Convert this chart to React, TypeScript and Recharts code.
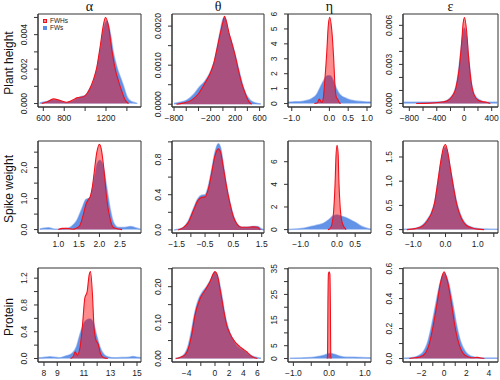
import { Area, ComposedChart, ReferenceArea, XAxis, YAxis } from "recharts";

type Pt = [number, number];

const rowNames = ["Plant height", "Spike weight", "Protein"];
const colNames = ["α", "θ", "η", "ε"];
const seriesNames = ["FWHs", "FWs"];

// ---- Plant height: [x, density] ----
const phAlphaFWHs: Pt[] = [[585, 0], [640, 0.0001], [696, 0.00027], [760, 0.00018], [824, 0.00008], [880, 0.0002], [920, 0.00033], [984, 0.0004], [1020, 0.0006], [1048, 0.0009], [1080, 0.0014], [1112, 0.0021], [1144, 0.0033], [1176, 0.0046], [1195, 0.005], [1224, 0.0045], [1256, 0.0031], [1288, 0.002], [1320, 0.0013], [1352, 0.0007], [1384, 0.0002], [1416, 0]];
const phAlphaFWs: Pt[] = [[565, 0.00003], [620, 0.0001], [690, 0.0002], [760, 0.00015], [824, 0.00005], [900, 0.0002], [960, 0.0004], [1000, 0.00045], [1040, 0.0008], [1080, 0.0013], [1112, 0.002], [1144, 0.0031], [1176, 0.0043], [1208, 0.0048], [1240, 0.0041], [1272, 0.0029], [1300, 0.0022], [1320, 0.0018], [1345, 0.0014], [1368, 0.001], [1400, 0.0004], [1440, 0.00012], [1480, 0.00004], [1500, 0.00001]];
const phThetaFWHs: Pt[] = [[-760, 0], [-650, 0.00003], [-520, 0.0001], [-400, 0.00027], [-290, 0.00055], [-200, 0.00082], [-150, 0.00105], [-100, 0.0014], [-45, 0.0018], [0, 0.0021], [25, 0.00225], [60, 0.0021], [100, 0.00182], [140, 0.0016], [200, 0.00125], [250, 0.0009], [300, 0.00058], [360, 0.0003], [420, 0.00008], [470, 0]];
const phThetaFWs: Pt[] = [[-800, 0.00002], [-700, 0.00005], [-595, 0.0001], [-480, 0.00025], [-390, 0.00043], [-290, 0.0006], [-192, 0.00087], [-140, 0.0011], [-100, 0.0014], [-45, 0.00185], [10, 0.0022], [40, 0.0022], [80, 0.0019], [118, 0.0017], [160, 0.0015], [200, 0.00126], [240, 0.001], [282, 0.00074], [320, 0.0005], [364, 0.0003], [447, 0.0001], [520, 0.00004], [620, 0.00001]];
const phEtaFWHs: Pt[] = [[-0.4, 0], [-0.32, 0.05], [-0.27, 0.3], [-0.2, 0.08], [-0.16, 0.4], [-0.12, 1.6], [-0.07, 3.4], [-0.03, 5.2], [0.01, 5.78], [0.06, 5.0], [0.11, 3.2], [0.15, 1.15], [0.19, 0.38], [0.22, 0.3], [0.26, 0.08], [0.3, 0]];
const phEtaFWs: Pt[] = [[-1.1, 0.09], [-0.9, 0.12], [-0.78, 0.13], [-0.6, 0.2], [-0.47, 0.33], [-0.34, 0.6], [-0.25, 1.04], [-0.16, 1.5], [-0.05, 1.87], [0.02, 1.87], [0.11, 1.5], [0.19, 0.98], [0.28, 0.6], [0.46, 0.33], [0.68, 0.18], [0.9, 0.13], [1.1, 0.1]];
const phEpsFWHs: Pt[] = [[-700, 0], [-500, 0.00003], [-350, 0.0001], [-257, 0.00018], [-184, 0.0005], [-121, 0.0012], [-73, 0.0027], [-39, 0.0046], [-15, 0.0062], [5, 0.0066], [34, 0.0056], [63, 0.0036], [97, 0.0018], [141, 0.0007], [204, 0.00025], [260, 0.00015], [325, 0.0001], [380, 0]];
const phEpsFWs: Pt[] = [[-880, 0.0001], [-700, 0.0001], [-500, 0.0001], [-305, 0.00013], [-209, 0.0004], [-136, 0.001], [-87, 0.0023], [-53, 0.0038], [-24, 0.0051], [0, 0.0058], [34, 0.0051], [68, 0.0033], [107, 0.0015], [155, 0.0006], [228, 0.00025], [300, 0.0001], [400, 0.0001], [480, 0.0001]];

// ---- Spike weight ----
const swAlphaFWHs: Pt[] = [[1.0, 0], [1.1, 0.04], [1.2, 0.04], [1.35, 0.01], [1.45, 0.05], [1.53, 0.15], [1.61, 0.5], [1.67, 0.81], [1.73, 0.97], [1.78, 1.08], [1.83, 1.4], [1.87, 1.82], [1.93, 2.45], [2.0, 2.75], [2.05, 2.56], [2.11, 1.93], [2.17, 1.08], [2.26, 0.34], [2.34, 0.07], [2.46, 0.02], [2.55, 0]];
const swAlphaFWs: Pt[] = [[0.55, 0.02], [0.65, 0.04], [0.76, 0.06], [0.92, 0.01], [1.12, 0.02], [1.25, 0.05], [1.32, 0.1], [1.45, 0.29], [1.57, 0.66], [1.67, 0.97], [1.77, 1.03], [1.87, 1.6], [1.95, 2.14], [2.01, 2.24], [2.09, 2.03], [2.17, 1.4], [2.26, 0.66], [2.34, 0.23], [2.46, 0.07], [2.62, 0.07], [2.75, 0.1], [2.85, 0.07], [3.0, 0.01]];
const swThetaFWHs: Pt[] = [[-1.45, 0], [-1.3, 0.02], [-1.1, 0.08], [-0.91, 0.22], [-0.76, 0.33], [-0.62, 0.37], [-0.5, 0.375], [-0.38, 0.47], [-0.26, 0.66], [-0.15, 0.84], [-0.03, 0.92], [0.05, 0.88], [0.15, 0.7], [0.26, 0.49], [0.38, 0.3], [0.5, 0.15], [0.62, 0.07], [0.79, 0.03], [1.0, 0.03], [1.2, 0.035], [1.35, 0.03], [1.45, 0]];
const swThetaFWs: Pt[] = [[-1.6, 0], [-1.5, 0.004], [-1.26, 0.03], [-1.09, 0.1], [-0.91, 0.24], [-0.76, 0.35], [-0.62, 0.395], [-0.5, 0.4], [-0.38, 0.5], [-0.26, 0.69], [-0.15, 0.88], [-0.03, 0.98], [0.05, 0.93], [0.15, 0.73], [0.26, 0.5], [0.38, 0.31], [0.5, 0.16], [0.62, 0.07], [0.79, 0.03], [1.0, 0.03], [1.2, 0.04], [1.35, 0.04], [1.5, 0.01], [1.58, 0]];
const swEtaFWHs: Pt[] = [[-0.25, 0], [-0.2, 0.06], [-0.14, 0.5], [-0.09, 1.8], [-0.05, 4.4], [-0.03, 6.4], [0, 7.45], [0.03, 6.7], [0.05, 4.4], [0.09, 1.8], [0.14, 0.64], [0.2, 0.2], [0.25, 0]];
const swEtaFWs: Pt[] = [[-1.35, 0.02], [-1.23, 0.03], [-0.91, 0.12], [-0.68, 0.29], [-0.53, 0.4], [-0.36, 0.58], [-0.23, 0.87], [-0.11, 1.2], [0, 1.3], [0.09, 1.22], [0.23, 1.07], [0.36, 0.87], [0.5, 0.64], [0.64, 0.35], [0.77, 0.17], [0.9, 0.06], [0.935, 0.05]];
const swEpsFWHs: Pt[] = [[-1.2, 0], [-0.95, 0.02], [-0.7, 0.08], [-0.55, 0.2], [-0.44, 0.33], [-0.34, 0.55], [-0.24, 0.98], [-0.15, 1.4], [-0.06, 1.7], [0, 1.757], [0.07, 1.6], [0.15, 1.27], [0.25, 0.87], [0.35, 0.52], [0.48, 0.25], [0.64, 0.09], [0.85, 0.03], [1.0, 0.01], [1.2, 0]];
const swEpsFWs: Pt[] = [[-1.32, 0.005], [-1.22, 0.007], [-0.91, 0.03], [-0.7, 0.1], [-0.55, 0.22], [-0.44, 0.35], [-0.34, 0.55], [-0.24, 0.96], [-0.15, 1.36], [-0.06, 1.63], [0, 1.7], [0.07, 1.57], [0.15, 1.26], [0.25, 0.89], [0.35, 0.55], [0.48, 0.28], [0.64, 0.11], [0.85, 0.04], [1.15, 0.013], [1.4, 0.01], [1.63, 0.005]];

// ---- Protein ----
const prAlphaFWHs: Pt[] = [[10.0, 0], [10.2, 0.03], [10.35, 0.1], [10.5, 0.05], [10.7, 0.15], [10.9, 0.5], [11.07, 0.9], [11.25, 1.0], [11.4, 1.25], [11.5, 1.3], [11.65, 0.95], [11.77, 0.45], [11.9, 0.28], [12.07, 0.22], [12.25, 0.075], [12.5, 0.01], [12.8, 0]];
const prAlphaFWs: Pt[] = [[7.6, 0.01], [7.8, 0.01], [8.45, 0.025], [9.1, 0.01], [9.6, 0.035], [10.1, 0.075], [10.45, 0.175], [10.7, 0.35], [10.95, 0.5], [11.2, 0.575], [11.45, 0.59], [11.7, 0.54], [11.95, 0.35], [12.2, 0.175], [12.45, 0.075], [12.8, 0.025], [13.3, 0.01], [13.95, 0.015], [14.4, 0.02], [14.7, 0.03], [15.0, 0.02], [15.3, 0.01]];
const prThetaFWHs: Pt[] = [[-5.5, 0], [-4.94, 0.003], [-4.24, 0.01], [-3.76, 0.028], [-3.3, 0.065], [-2.82, 0.121], [-2.1, 0.167], [-1.4, 0.19], [-0.8, 0.21], [0, 0.242], [0.33, 0.233], [0.7, 0.195], [1.18, 0.14], [1.65, 0.093], [2.1, 0.07], [2.8, 0.047], [3.5, 0.033], [4.47, 0.019], [4.94, 0.01], [5.5, 0.003], [6.0, 0]];
const prThetaFWs: Pt[] = [[-5.65, 0], [-4.94, 0.003], [-4.24, 0.014], [-3.76, 0.037], [-3.3, 0.079], [-2.82, 0.13], [-2.35, 0.163], [-1.74, 0.186], [-1.18, 0.2], [-0.61, 0.219], [0, 0.24], [0.47, 0.223], [0.94, 0.177], [1.41, 0.121], [1.88, 0.084], [2.35, 0.06], [2.82, 0.042], [3.53, 0.028], [4.24, 0.02], [4.7, 0.012], [5.5, 0.005], [6.5, 0.001]];
const prEtaFWHs: Pt[] = [[-0.06, 0], [-0.045, 1], [-0.035, 20], [-0.02, 33], [0, 33.8], [0.02, 33], [0.035, 20], [0.045, 1], [0.06, 0]];
const prEtaFWs: Pt[] = [[-1.1, 0.13], [-0.8, 0.2], [-0.63, 0.26], [-0.35, 0.65], [-0.17, 1.17], [-0.06, 1.7], [0.04, 1.95], [0.16, 1.56], [0.3, 0.9], [0.48, 0.5], [0.67, 0.5], [0.86, 0.4], [1.09, 0.26], [1.17, 0.2]];
const prEpsFWHs: Pt[] = [[-3.1, 0], [-2.6, 0.005], [-2.15, 0.011], [-1.7, 0.033], [-1.31, 0.1], [-0.96, 0.22], [-0.6, 0.378], [-0.3, 0.51], [0, 0.578], [0.3, 0.52], [0.69, 0.355], [1.01, 0.2], [1.37, 0.089], [1.73, 0.033], [2.18, 0.011], [2.63, 0.005], [3.0, 0.008], [3.3, 0.004], [3.6, 0]];
const prEpsFWs: Pt[] = [[-3.6, 0.002], [-3.34, 0.003], [-2.75, 0.007], [-2.3, 0.018], [-1.85, 0.044], [-1.49, 0.1], [-1.1, 0.22], [-0.72, 0.367], [-0.36, 0.5], [0, 0.567], [0.39, 0.51], [0.78, 0.367], [1.13, 0.22], [1.49, 0.11], [1.88, 0.049], [2.33, 0.018], [2.93, 0.007], [3.67, 0.003], [4.57, 0.003], [4.8, 0.002]];

// ---- tick values and their printed labels ("" = tick without label) ----
const phAlphaXT = [600, 800, 1000, 1200, 1400];
const phAlphaXL = ["600", "800", "", "1200", ""];
const phAlphaYT = [0, 0.001, 0.002, 0.003, 0.004, 0.005];
const phAlphaYL = ["0.000", "", "0.002", "", "0.004", ""];
const phThetaXT = [-800, -600, -400, -200, 0, 200, 400, 600];
const phThetaXL = ["−800", "", "", "−200", "", "200", "", "600"];
const phThetaYT = [0, 0.0005, 0.001, 0.0015, 0.002];
const phThetaYL = ["0.0000", "", "0.0010", "", "0.0020"];
const phEtaXT = [-1, -0.5, 0, 0.5, 1];
const phEtaXL = ["−1.0", "", "0.0", "0.5", "1.0"];
const phEtaYT = [0, 1, 2, 3, 4, 5, 6];
const phEtaYL = ["0", "1", "2", "3", "4", "5", "6"];
const phEpsXT = [-800, -600, -400, -200, 0, 200, 400];
const phEpsXL = ["−800", "", "−400", "", "0", "", "400"];
const phEpsYT = [0, 0.001, 0.002, 0.003, 0.004, 0.005, 0.006];
const phEpsYL = ["0.000", "", "", "0.003", "", "", "0.006"];

const swAlphaXT = [1.0, 1.5, 2.0, 2.5];
const swAlphaXL = ["1.0", "1.5", "2.0", "2.5"];
const swAlphaYT = [0, 0.5, 1.0, 1.5, 2.0, 2.5];
const swAlphaYL = ["0.0", "", "1.0", "", "2.0", ""];
const swThetaXT = [-1.5, -1.0, -0.5, 0, 0.5, 1.0, 1.5];
const swThetaXL = ["−1.5", "", "−0.5", "", "0.5", "", "1.5"];
const swThetaYT = [0, 0.2, 0.4, 0.6, 0.8, 1.0];
const swThetaYL = ["0.0", "", "0.4", "", "0.8", ""];
const swEtaXT = [-1.0, -0.5, 0, 0.5];
const swEtaXL = ["−1.0", "", "0.0", "0.5"];
const swEtaYT = [0, 2, 4, 6];
const swEtaYL = ["0", "2", "4", "6"];
const swEpsXT = [-1.0, -0.5, 0, 0.5, 1.0, 1.5];
const swEpsXL = ["−1.0", "", "0.0", "", "1.0", ""];
const swEpsYT = [0, 0.5, 1.0, 1.5];
const swEpsYL = ["0.0", "0.5", "1.0", "1.5"];

const prAlphaXT = [8, 9, 10, 11, 12, 13, 14, 15];
const prAlphaXL = ["8", "9", "", "11", "", "13", "", "15"];
const prAlphaYT = [0, 0.2, 0.4, 0.6, 0.8, 1.0, 1.2];
const prAlphaYL = ["0.0", "", "0.4", "", "0.8", "", "1.2"];
const prThetaXT = [-4, -2, 0, 2, 4, 6];
const prThetaXL = ["−4", "", "0", "2", "4", "6"];
const prThetaYT = [0, 0.05, 0.1, 0.15, 0.2, 0.25];
const prThetaYL = ["0.00", "", "0.10", "", "0.20", ""];
const prEtaXT = [-1.0, -0.5, 0, 0.5, 1.0];
const prEtaXL = ["−1.0", "", "0.0", "", "1.0"];
const prEtaYT = [0, 5, 10, 15, 20, 25, 30, 35];
const prEtaYL = ["0", "5", "", "15", "", "25", "", "35"];
const prEpsXT = [-3, -2, -1, 0, 1, 2, 3, 4];
const prEpsXL = ["", "−2", "", "0", "", "2", "", "4"];
const prEpsYT = [0, 0.1, 0.2, 0.3, 0.4, 0.5, 0.6];
const prEpsYL = ["0.0", "", "0.2", "", "0.4", "", "0.6"];

// plot boxes in page pixels
const COLS = [{ left: 38, width: 103 }, { left: 172, width: 92 }, { left: 288, width: 83 }, { left: 403, width: 95 }];
const ROWS = [{ top: 14, height: 93 }, { top: 141, height: 92 }, { top: 268, height: 94 }];

const PL = 34;
const PT = 6;
const PR = 6;
const PB = 26;

const FONT = "'Liberation Sans', Arial, Helvetica, sans-serif";
const BLUE = "#5b8de6";
const RED = "#ff0000";

type PanelCfg = {
  red: Pt[];
  blue: Pt[];
  xDomain: [number, number];
  yDomain: [number, number];
  xT: number[];
  xL: string[];
  yT: number[];
  yL: string[];
};

const panels: PanelCfg[][] = [
  [
    { red: phAlphaFWHs, blue: phAlphaFWs, xDomain: [549, 1535], yDomain: [-0.0002, 0.0052], xT: phAlphaXT, xL: phAlphaXL, yT: phAlphaYT, yL: phAlphaYL },
    { red: phThetaFWHs, blue: phThetaFWs, xDomain: [-833, 672], yDomain: [-0.00007, 0.00231], xT: phThetaXT, xL: phThetaXL, yT: phThetaYT, yL: phThetaYL },
    { red: phEtaFWHs, blue: phEtaFWs, xDomain: [-1.1, 1.106], yDomain: [-0.23, 6.0], xT: phEtaXT, xL: phEtaXL, yT: phEtaYT, yL: phEtaYL },
    { red: phEpsFWHs, blue: phEpsFWs, xDomain: [-892, 492], yDomain: [-0.00027, 0.00687], xT: phEpsXT, xL: phEpsXL, yT: phEpsYT, yL: phEpsYL },
  ],
  [
    { red: swAlphaFWHs, blue: swAlphaFWs, xDomain: [0.506, 3.01], yDomain: [-0.11, 2.86], xT: swAlphaXT, xL: swAlphaXL, yT: swAlphaYT, yL: swAlphaYL },
    { red: swThetaFWHs, blue: swThetaFWs, xDomain: [-1.666, 1.58], yDomain: [-0.035, 1.01], xT: swThetaXT, xL: swThetaXL, yT: swThetaYT, yL: swThetaYL },
    { red: swEtaFWHs, blue: swEtaFWs, xDomain: [-1.35, 0.935], yDomain: [-0.3, 7.83], xT: swEtaXT, xL: swEtaXL, yT: swEtaYT, yL: swEtaYL },
    { red: swEpsFWHs, blue: swEpsFWs, xDomain: [-1.32, 1.63], yDomain: [-0.07, 1.83], xT: swEpsXT, xL: swEpsXL, yT: swEpsYT, yL: swEpsYL },
  ],
  [
    { red: prAlphaFWHs, blue: prAlphaFWs, xDomain: [7.55, 15.3], yDomain: [-0.052, 1.352], xT: prAlphaXT, xL: prAlphaXL, yT: prAlphaYT, yL: prAlphaYL },
    { red: prThetaFWHs, blue: prThetaFWs, xDomain: [-6.07, 6.92], yDomain: [-0.0097, 0.252], xT: prThetaXT, xL: prThetaXL, yT: prThetaYT, yL: prThetaYL },
    { red: prEtaFWHs, blue: prEtaFWs, xDomain: [-1.15, 1.17], yDomain: [-1.35, 35.3], xT: prEtaXT, xL: prEtaXL, yT: prEtaYT, yL: prEtaYL },
    { red: prEpsFWHs, blue: prEpsFWs, xDomain: [-3.66, 4.82], yDomain: [-0.023, 0.604], xT: prEpsXT, xL: prEpsXL, yT: prEpsYT, yL: prEpsYL },
  ],
];

// one row per x; a series is null where it has no point, bridged by connectNulls
function merge(red: Pt[], blue: Pt[]) {
  const byX = new Map<number, { x: number; fwhs?: number; fws?: number }>();
  red.forEach(([x, y]) => byX.set(x, { ...(byX.get(x) ?? { x }), fwhs: y }));
  blue.forEach(([x, y]) => byX.set(x, { ...(byX.get(x) ?? { x }), fws: y }));
  return [...byX.values()].sort((a, b) => a.x - b.x);
}

function Panel({ cfg, col, row }: { cfg: PanelCfg; col: number; row: number }) {
  const c = COLS[col];
  const r = ROWS[row];
  const data = merge(cfg.red, cfg.blue);

  const xTick = (p: any) => {
    const label = cfg.xL[cfg.xT.indexOf(p.payload.value)];
    if (!label) return <g />;
    return (
      <text x={p.x} y={p.y + 8} textAnchor="middle" fontSize={8.5} fontFamily={FONT} fill="#222">
        {label}
      </text>
    );
  };
  const yTick = (p: any) => {
    const label = cfg.yL[cfg.yT.indexOf(p.payload.value)];
    if (!label) return <g />;
    const cx = p.x - 5;
    return (
      <text x={cx} y={p.y} transform={`rotate(-90 ${cx} ${p.y})`} textAnchor="middle" fontSize={8.5} fontFamily={FONT} fill="#222">
        {label}
      </text>
    );
  };

  return (
    <div style={{ position: "absolute", left: c.left - PL, top: r.top - PT }}>
      <ComposedChart
        width={c.width + PL + PR}
        height={r.height + PT + PB}
        data={data}
        margin={{ top: PT, right: PR, bottom: 0, left: 0 }}
      >
        <XAxis
          dataKey="x"
          type="number"
          domain={cfg.xDomain}
          ticks={cfg.xT}
          interval={0}
          allowDataOverflow
          height={PB}
          tickSize={4}
          stroke="#333"
          tick={xTick}
        />
        <YAxis
          type="number"
          domain={cfg.yDomain}
          ticks={cfg.yT}
          interval={0}
          allowDataOverflow
          width={PL}
          tickSize={4}
          stroke="#333"
          tick={yTick}
        />
        <Area
          type="monotone"
          dataKey="fws"
          baseValue={0}
          connectNulls
          fill={BLUE}
          fillOpacity={0.95}
          stroke={BLUE}
          strokeOpacity={0.55}
          strokeWidth={1.5}
          dot={false}
          activeDot={false}
          isAnimationActive={false}
        />
        <Area
          type="monotone"
          dataKey="fwhs"
          baseValue={0}
          connectNulls
          fill={RED}
          fillOpacity={0.45}
          stroke="#f0101c"
          strokeWidth={1.1}
          dot={false}
          activeDot={false}
          isAnimationActive={false}
        />
        <ReferenceArea
          x1={cfg.xDomain[0]}
          x2={cfg.xDomain[1]}
          y1={cfg.yDomain[0]}
          y2={cfg.yDomain[1]}
          fill="none"
          stroke="#333"
          strokeWidth={1}
          ifOverflow="visible"
        />
      </ComposedChart>
    </div>
  );
}

export default function App() {
  return (
    <div style={{ position: "absolute", left: 0, top: 0, width: 500, height: 380, background: "#fff", overflow: "hidden", fontFamily: FONT }}>
      {panels.map((rowCfgs, ri) =>
        rowCfgs.map((cfg, ci) => <Panel key={`${ri}-${ci}`} cfg={cfg} col={ci} row={ri} />)
      )}

      {colNames.map((name, ci) => (
        <div
          key={name}
          style={{
            position: "absolute",
            left: COLS[ci].left,
            width: COLS[ci].width,
            top: 0,
            textAlign: "center",
            fontFamily: "'Liberation Serif', 'DejaVu Serif', serif",
            fontSize: 14,
            lineHeight: "14px",
            color: "#111",
          }}
        >
          {name}
        </div>
      ))}

      {rowNames.map((name, ri) => (
        <div
          key={name}
          style={{
            position: "absolute",
            left: 9,
            top: ROWS[ri].top + ROWS[ri].height / 2 + 2,
            transform: "translate(-50%, -50%) rotate(-90deg)",
            whiteSpace: "nowrap",
            fontSize: 12,
            lineHeight: "14px",
            color: "#111",
          }}
        >
          {name}
        </div>
      ))}

      {/* legend, top-left of the first panel */}
      {seriesNames.map((name, i) => (
        <div key={name} style={{ position: "absolute", left: 43, top: 17 + i * 7, display: "flex", alignItems: "center", height: 7 }}>
          <span
            style={{
              width: 4,
              height: 4,
              boxSizing: "border-box",
              border: i === 0 ? "1px solid #f0101c" : `1px solid ${BLUE}`,
              background: i === 0 ? "rgba(255,0,0,0.45)" : BLUE,
              marginRight: 3,
            }}
          />
          <span style={{ fontSize: 6.5, color: "#222", lineHeight: "7px" }}>{name}</span>
        </div>
      ))}
    </div>
  );
}
